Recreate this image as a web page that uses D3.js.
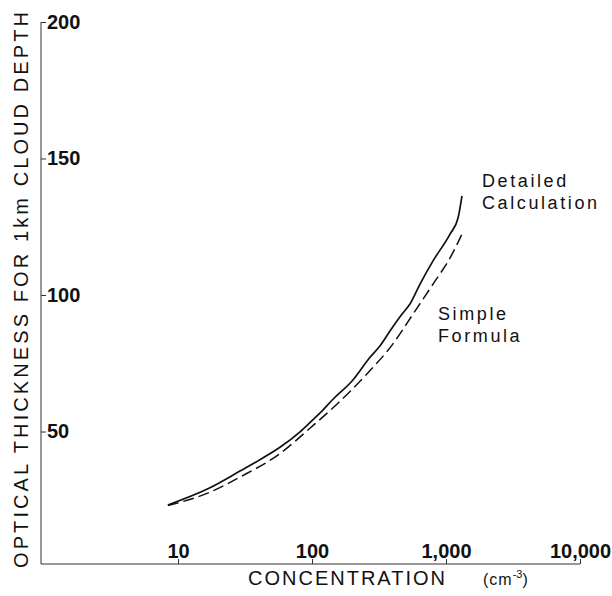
<!DOCTYPE html>
<html>
<head>
<meta charset="utf-8">
<script src="https://cdn.jsdelivr.net/npm/d3@7"></script>
<style>
  body { margin: 0; background: #fff; }
  text { font-family: "Liberation Sans", Arial, sans-serif; fill: #111; }
</style>
</head>
<body>
<svg></svg>
<script>
// values
const detailedN   = [8.4, 17, 29, 42, 58, 81, 100, 115, 144, 199, 271, 321, 382, 470, 538, 640, 800, 1072, 1230, 1316];
const detailedTau = [23.1, 29.2, 35.5, 40.0, 44.3, 49.8, 54.0, 56.8, 61.9, 68.5, 77.2, 81.3, 86.8, 93.0, 96.7, 104.0, 112.5, 122.3, 128.2, 136.3];
const simpleN     = [8.4, 17, 29, 58, 97, 154, 257, 402, 567, 800, 1072, 1316];
const simpleTau   = [22.9, 27.6, 33.3, 42.0, 51.3, 60.1, 71.1, 82.1, 93.0, 104.0, 113.6, 122.3];
const xTicks = [10, 100, 1000, 10000];
const xTickLabels = ['10', '100', '1,000', '10,000'];
const yTicks = [50, 100, 150, 200];
const yTickLabels = ['50', '100', '150', '200'];

let width = 612, height = 596;

let svg = d3.select('svg')
    .attr('width', width)
    .attr('height', height);

let x = d3.scaleLog().domain([10, 10000]).range([178, 580]);
let y = d3.scaleLinear().domain([0, 200]).range([568, 22]);

const axisX = 41, axisY = 564;

// y axis
let yAxis = svg.append('g')
    .attr('transform', `translate(${axisX},0)`)
    .call(d3.axisRight(y)
        .tickValues(yTicks)
        .tickFormat((d, i) => yTickLabels[i])
        .tickSize(5)
        .tickPadding(1)
        .tickSizeOuter(0));
yAxis.select('.domain').attr('d', `M0,${y(200)}V${axisY}`);

// x axis
let xAxis = svg.append('g')
    .attr('transform', `translate(0,${axisY})`)
    .call(d3.axisTop(x)
        .tickValues(xTicks)
        .tickFormat((d, i) => xTickLabels[i])
        .tickSize(5)
        .tickPadding(1)
        .tickSizeOuter(0));
xAxis.select('.domain').attr('d', `M${axisX},0H${x(10000)}`);

svg.selectAll('.domain, .tick line')
    .attr('stroke', '#333')
    .attr('stroke-width', 1);
svg.selectAll('.tick text')
    .style('font-family', '"Liberation Sans", Arial, sans-serif')
    .style('font-size', '20px')
    .style('font-weight', 'bold')
    .attr('fill', '#111');

// curves
let line = d3.line()
    .x(d => x(d[0]))
    .y(d => y(d[1]))
    .curve(d3.curveMonotoneX);

svg.append('path')
    .datum(detailedN.map((n, i) => [n, detailedTau[i]]))
    .attr('d', line)
    .attr('fill', 'none')
    .attr('stroke', '#111')
    .attr('stroke-width', 1.7);

svg.append('path')
    .datum(simpleN.map((n, i) => [n, simpleTau[i]]))
    .attr('d', line)
    .attr('fill', 'none')
    .attr('stroke', '#111')
    .attr('stroke-width', 1.5)
    .attr('stroke-dasharray', '11,5');

// curve labels
let label = (lines, lx, ly) => {
    let t = svg.append('text')
        .attr('x', lx).attr('y', ly)
        .style('font-size', '18px')
        .style('letter-spacing', '2.6px');
    lines.forEach((s, i) => t.append('tspan')
        .attr('x', lx).attr('dy', i ? 22 : 0).text(s));
};
label(['Detailed', 'Calculation'], 482, 187);
label(['Simple', 'Formula'], 438, 320);

// axis titles
let xt = svg.append('text')
    .attr('x', 248).attr('y', 585)
    .style('font-size', '20px')
    .style('letter-spacing', '2px');
xt.append('tspan').text('CONCENTRATION');
xt.append('tspan').attr('dx', 36).style('font-size', '16px').style('letter-spacing', '1px').text('(cm');
xt.append('tspan').attr('dy', -7).style('font-size', '11px').style('letter-spacing', '0px').text('-3');
xt.append('tspan').attr('dy', 7).style('font-size', '16px').text(')');

svg.append('text')
    .attr('transform', 'translate(28,568) rotate(-90)')
    .attr('textLength', 556)
    .attr('lengthAdjust', 'spacing')
    .style('font-size', '20px')
    .text('OPTICAL THICKNESS FOR 1km CLOUD DEPTH');
</script>
</body>
</html>
